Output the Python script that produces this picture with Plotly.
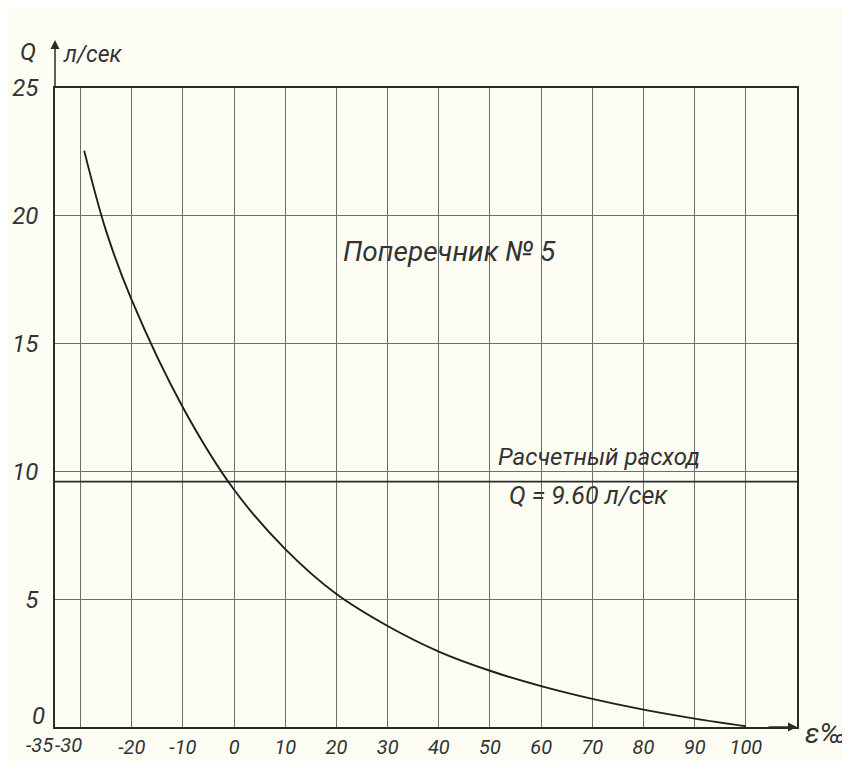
import plotly.graph_objects as go

# ---- data ----
eps = [-29.3, -25, -20, -10, 0, 10, 20, 30, 40, 50, 60, 70, 80, 90, 100]
flow_q = [22.55, 19.4, 16.7, 12.5, 9.28, 6.96, 5.2, 3.95, 2.95, 2.2, 1.6, 1.1, 0.68, 0.33, 0.03]

x_tick_vals = [-35, -30, -20, -10, 0, 10, 20, 30, 40, 50, 60, 70, 80, 90, 100]
x_tick_text = ["-35", "-30", "-20", "-10", "0", "10", "20", "30",
               "40", "50", "60", "70", "80", "90", "100"]
# crowded labels at the lower-left corner are drawn nudged (pixels)
x_label_shift = {-35: -15, -30: -12}
y_tick_vals = [0, 5, 10, 15, 20, 25]
y_tick_text = ["0", "5", "10", "15", "20", "25"]
y_label_shift = {0: 11}

design_q = 9.60
x_min, x_max = -35, 110
y_min, y_max = 0, 25

FONT = "Roboto, Liberation Sans, sans-serif"
INK = "#2a2a2a"
GRID = "#6e6e6e"
BG = "#fdfdf4"

fig = go.Figure()

# design discharge line
fig.add_trace(go.Scatter(
    x=[x_min, x_max], y=[design_q, design_q], mode="lines",
    line=dict(color=INK, width=1.6), hoverinfo="skip", showlegend=False))

# curve Q(eps)
fig.add_trace(go.Scatter(
    x=eps, y=flow_q, mode="lines",
    line=dict(color="#1e1e1e", width=1.9, shape="spline", smoothing=1.0),
    showlegend=False))

x_axis_text = ["" if v in x_label_shift else t for v, t in zip(x_tick_vals, x_tick_text)]
y_axis_text = ["" if v in y_label_shift else t for v, t in zip(y_tick_vals, y_tick_text)]
xtick_font = dict(family=FONT, size=20, color="#333", style="italic")
ytick_font = dict(family=FONT, size=24, color="#333", style="italic")

fig.update_xaxes(
    range=[x_min, x_max], tickvals=x_tick_vals, ticktext=x_axis_text,
    showgrid=True, gridcolor=GRID, gridwidth=1, zeroline=False,
    showline=True, linecolor=INK, linewidth=1.6, mirror=True,
    ticks="", tickangle=0, automargin=False,
    tickfont=xtick_font, ticklabelstandoff=1)
fig.update_yaxes(
    range=[y_min, y_max], tickvals=y_tick_vals, ticktext=y_axis_text,
    showgrid=True, gridcolor=GRID, gridwidth=1, zeroline=False,
    showline=True, linecolor=INK, linewidth=1.6, mirror=True,
    ticks="", automargin=False,
    tickfont=ytick_font, ticklabelstandoff=10)

ann_font = dict(family=FONT, color="#333", style="italic")
annotations = [
    # axis arrows
    dict(xref="paper", yref="paper", x=0, y=1.075, ax=0, ay=48, text="",
         showarrow=True, arrowhead=2, arrowsize=1.2, arrowwidth=1.5, arrowcolor=INK),
    dict(xref="paper", yref="paper", x=1, y=0, ax=-30, ay=0, text="",
         showarrow=True, arrowhead=2, arrowsize=1.2, arrowwidth=1.5, arrowcolor=INK),
    # axis names
    dict(xref="paper", yref="paper", x=-0.037, y=1.057, text="Q", showarrow=False,
         xanchor="center", yanchor="middle", font=dict(ann_font, size=24)),
    dict(xref="paper", yref="paper", x=0.051, y=1.052, text="л/сек", showarrow=False,
         xanchor="center", yanchor="middle", font=dict(ann_font, size=23)),
    dict(xref="paper", yref="paper", x=1.039, y=-0.01, text="ε‰", showarrow=False,
         xanchor="center", yanchor="middle", font=dict(ann_font, size=28)),
    # titles inside plot
    dict(x=42, y=18.6, text="Поперечник № 5", showarrow=False,
         xanchor="center", yanchor="middle", font=dict(ann_font, size=28)),
    dict(x=71.3, y=10.55, text="Расчетный расход", showarrow=False,
         xanchor="center", yanchor="middle", font=dict(ann_font, size=24)),
    dict(x=69.2, y=9.05, text=f"Q = {design_q:.2f} л/сек", showarrow=False,
         xanchor="center", yanchor="middle", font=dict(ann_font, size=25)),
]
# crowded tick labels drawn as nudged annotations
for v, t in zip(x_tick_vals, x_tick_text):
    if v in x_label_shift:
        annotations.append(dict(
            x=v, xref="x", y=0, yref="paper", text=t, showarrow=False,
            xanchor="center", yanchor="top", xshift=x_label_shift[v], yshift=-4,
            font=xtick_font))
for v, t in zip(y_tick_vals, y_tick_text):
    if v in y_label_shift:
        annotations.append(dict(
            x=0, xref="paper", y=v, yref="y", text=t, showarrow=False,
            xanchor="right", yanchor="middle", xshift=-8, yshift=y_label_shift[v],
            font=ytick_font))

# page body adds an 8px offset, so the figure is drawn slightly smaller
fig.update_layout(
    width=842, height=753,
    margin=dict(l=47, r=53, t=80, b=34),
    paper_bgcolor=BG, plot_bgcolor=BG,
    annotations=annotations,
    font=dict(family=FONT, color="#333"),
)

fig.write_html("out.html")
